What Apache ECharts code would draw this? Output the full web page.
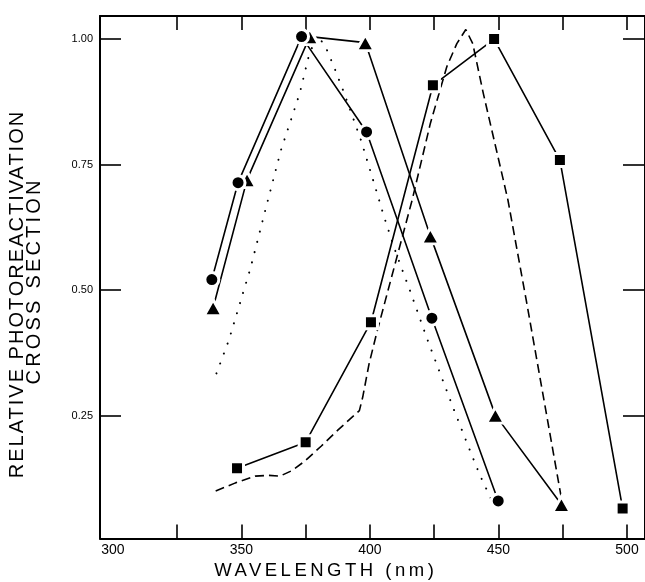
<!DOCTYPE html>
<html><head><meta charset="utf-8">
<script src="https://cdn.jsdelivr.net/npm/echarts@6/dist/echarts.min.js"></script>
<style>html,body{margin:0;padding:0;background:#fff}#c{width:645px;height:582px}</style>
</head><body><div id="c"></div>
<script>
// ---- data (wavelength nm, relative cross section) ----
const xLabelValues = [300, 350, 400, 450, 500];
const xTickValues = [325, 350, 375, 400, 425, 450, 475, 500];
const yTickValues = [0.25, 0.50, 0.75, 1.00];
const xTitle = 'WAVELENGTH (nm)';
const yTitle1 = 'RELATIVE PHOTOREACTIVATION';
const yTitle2 = 'CROSS SECTION';

const circleData = [[338.5,0.521],[348.7,0.714],[373.4,1.005],[398.7,0.815],[424.1,0.444],[449.9,0.080]];
const triangleData = [[339.0,0.465],[352.2,0.720],[376.6,1.005],[398.2,0.993],[423.5,0.608],[448.8,0.251],[474.5,0.073]];
const squareData = [[348.3,0.145],[375.0,0.197],[400.4,0.436],[424.5,0.908],[448.3,1.000],[473.9,0.759],[498.3,0.065]];
const dashedData = [[340,0.100],[347.7,0.116],[355.4,0.1295],[360.5,0.131],[365,0.1295],[369.5,0.140],[374.6,0.159],[381,0.189],[387.5,0.221],[395.9,0.260],[397.2,0.287],[399.7,0.354],[402.9,0.420],[416.4,0.679],[423.5,0.832],[429.9,0.945],[433.8,0.991],[437.3,1.019],[440,0.991],[444.1,0.892],[449.2,0.779],[453.7,0.679],[460.8,0.480],[474.6,0.082]];
const dottedData = [[340.3,0.334],[345.1,0.400],[353.5,0.543],[359.3,0.659],[365.4,0.779],[372.7,0.892],[376,0.962],[379.2,1.007],[382.4,0.989],[386,0.945],[389.4,0.900],[392.6,0.855],[396.5,0.799],[401.6,0.713],[405.5,0.646],[410,0.576],[415.5,0.500],[422.1,0.405],[427.1,0.337],[432.2,0.268],[437.4,0.200],[442.8,0.131],[447.5,0.080]];

// ---- letter spacing for the wide-tracked titles only ----
const SPACING = {};
SPACING[xTitle] = 3.5; SPACING[yTitle1] = 2.0; SPACING[yTitle2] = 3.2;
const origFill = CanvasRenderingContext2D.prototype.fillText;
CanvasRenderingContext2D.prototype.fillText = function (t, x, y, m) {
  const s = SPACING[t];
  const hasLS = 'letterSpacing' in this;
  let dx = 0;
  if (hasLS) {
    this.letterSpacing = (s !== undefined ? s : 0) + 'px';
    if (s !== undefined && this.textAlign === 'center') dx = s / 2;
  }
  const r = m === undefined ? origFill.call(this, t, x + dx, y) : origFill.call(this, t, x + dx, y, m);
  if (hasLS) this.letterSpacing = '0px';
  return r;
};

const FONT = '"Liberation Sans", Arial, Helvetica, sans-serif';
const chart = echarts.init(document.getElementById('c'), null, {renderer: 'canvas'});
const axisLine = {show: true, lineStyle: {color: '#000', width: 2}};
const xMin = 295, xMax = 507, yMin = 0.005, yMax = 1.046;
const halo = {borderColor: '#fff', borderWidth: 3};

chart.setOption({
  animation: false,
  backgroundColor: '#fff',
  grid: {left: 100, top: 16, width: 550, height: 522.6, containLabel: false},
  xAxis: [
    {type: 'value', position: 'bottom', min: xMin, max: xMax, axisLine: axisLine,
     axisTick: {show: true, inside: true, length: 14, customValues: xTickValues, lineStyle: {color: '#000', width: 1.6}},
     axisLabel: {show: true, customValues: xLabelValues, margin: 5, color: '#000', fontSize: 14, fontFamily: FONT},
     splitLine: {show: false}},
    {type: 'value', position: 'top', min: xMin, max: xMax, axisLine: axisLine,
     axisTick: {show: true, inside: true, length: 14, customValues: xTickValues, lineStyle: {color: '#000', width: 1.6}},
     axisLabel: {show: false}, splitLine: {show: false}}
  ],
  yAxis: [
    {type: 'value', position: 'left', min: yMin, max: yMax, axisLine: axisLine,
     axisTick: {show: true, inside: true, length: 21, customValues: yTickValues, lineStyle: {color: '#000', width: 1.6}},
     axisLabel: {show: true, customValues: yTickValues, margin: 7, color: '#000', fontSize: 11, fontFamily: FONT,
       formatter: v => v.toFixed(2)},
     splitLine: {show: false}},
    {type: 'value', position: 'right', min: yMin, max: yMax, axisLine: axisLine,
     axisTick: {show: true, inside: true, length: 22, customValues: yTickValues, lineStyle: {color: '#000', width: 1.6}},
     axisLabel: {show: false}, splitLine: {show: false}}
  ],
  graphic: [
    {type: 'text', x: 324, y: 571, style: {text: xTitle, font: '18.5px ' + FONT, fill: '#000', align: 'center', verticalAlign: 'middle'}},
    {type: 'text', x: 17.5, y: 295, rotation: Math.PI / 2, style: {text: yTitle1, font: '20px ' + FONT, fill: '#000', align: 'center', verticalAlign: 'middle'}},
    {type: 'text', x: 34.5, y: 282.5, rotation: Math.PI / 2, style: {text: yTitle2, font: '20px ' + FONT, fill: '#000', align: 'center', verticalAlign: 'middle'}}
  ],
  series: [
    {type: 'line', data: dottedData, showSymbol: false, symbol: 'none', silent: true,
     lineStyle: {color: '#000', width: 2, type: [0.1, 10.5], cap: 'round'}},
    {type: 'line', data: dashedData, showSymbol: false, symbol: 'none', silent: true,
     lineStyle: {color: '#000', width: 1.6, type: [9, 5]}},
    {type: 'line', data: squareData, symbol: 'rect', symbolSize: 13, silent: true,
     itemStyle: Object.assign({color: '#000'}, halo), lineStyle: {color: '#000', width: 1.6}},
    {type: 'line', data: triangleData, symbol: 'triangle', symbolSize: [18, 16], silent: true,
     itemStyle: Object.assign({color: '#000'}, halo), lineStyle: {color: '#000', width: 1.6}},
    {type: 'line', data: circleData, symbol: 'circle', symbolSize: 14, silent: true,
     itemStyle: Object.assign({color: '#000'}, halo), lineStyle: {color: '#000', width: 1.6}}
  ]
});
</script>
</body></html>
